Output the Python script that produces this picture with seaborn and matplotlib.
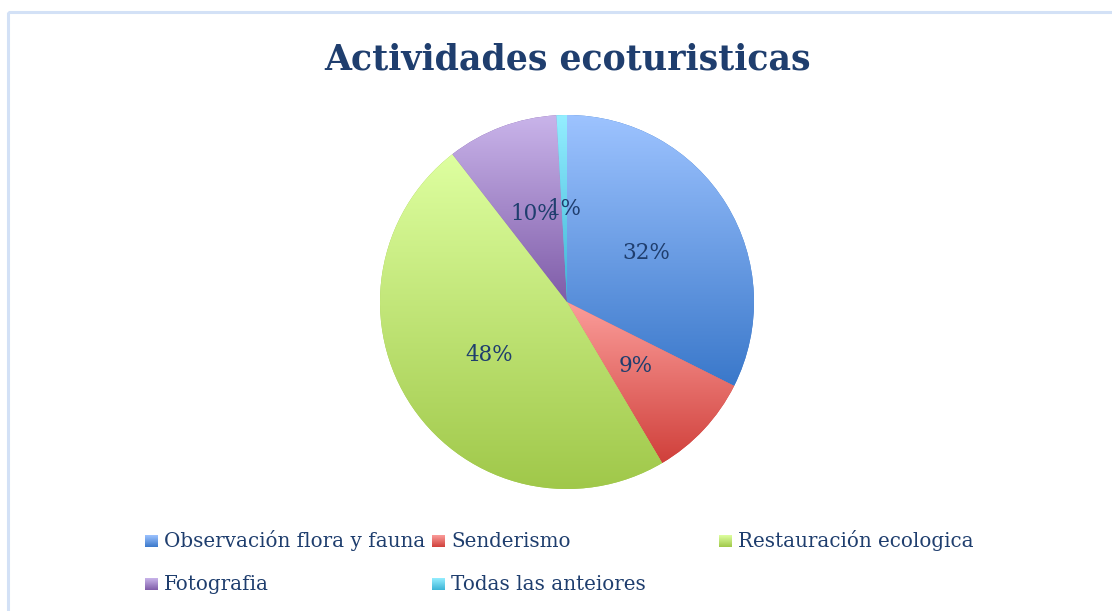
import numpy as np
import matplotlib
matplotlib.use("Agg")
import matplotlib.pyplot as plt
import seaborn as sns
from matplotlib.colors import LinearSegmentedColormap
from matplotlib.patches import Rectangle

sns.set_theme(style="white")
plt.rcParams['font.family'] = ['DejaVu Serif']

# data
categories = ["Observación flora y fauna", "Senderismo", "Restauración ecologica",
              "Fotografia", "Todas las anteiores"]
shares = [32.4, 9.1, 48.0, 9.6, 0.9]
top_colors = ["#9DC3FF", "#FB9D9A", "#DEFFA0", "#C9B4EA", "#94EEFF"]
bottom_colors = ["#3A78CA", "#D0403B", "#A0C84A", "#7F5CA8", "#3CB4D6"]
title = "Actividades ecoturisticas"
text_color = "#1F3E6E"

W, H = 1112, 611
fig = plt.figure(figsize=(W / 100, H / 100), dpi=100)
fig.patch.set_facecolor("white")

# overlay axes in pixel coordinates (frame + legend)
ov = fig.add_axes([0, 0, 1, 1])
ov.set_xlim(0, W)
ov.set_ylim(H, 0)
ov.axis("off")
ov.add_patch(Rectangle((8, 12), W + 20, H + 20, fill=False, edgecolor="#D3E1F6", linewidth=2.2))

ramp = np.linspace(0, 1, 256).reshape(-1, 1)


def gradient_cmap(top, bottom):
    return LinearSegmentedColormap.from_list("g", [bottom, top])


# pie
cx, cy, r = 567, 302, 187
ax = fig.add_axes([(cx - r) / W, (H - cy - r) / H, 2 * r / W, 2 * r / H])
wedges, texts, autotexts = ax.pie(
    shares, startangle=90, counterclock=False, radius=1,
    autopct="%.0f%%", pctdistance=0.5,
    wedgeprops={"linewidth": 0, "edgecolor": "none"},
    textprops={"color": text_color, "fontsize": 15.5},
)
for w, t, b in zip(wedges, top_colors, bottom_colors):
    w.set_facecolor(b)
    ext = w.get_path().get_extents()
    im = ax.imshow(ramp, cmap=gradient_cmap(t, b), origin="lower", aspect="auto",
                   extent=[ext.x0, ext.x1, ext.y0, ext.y1], zorder=w.get_zorder() + 0.1,
                   interpolation="bilinear")
    im.set_clip_path(w)
for a in autotexts:
    a.set_zorder(5)
ax.set_xlim(-1, 1)
ax.set_ylim(-1, 1)
ax.set_aspect("equal")
ax.axis("off")

# title
fig.text(cx / W, 1 - 60 / H, title, ha="center", va="center",
         fontsize=25, fontweight="bold", color=text_color)

# legend laid out like the office chart (row-major, fixed columns)
col_x = [145, 432, 719]
row_y = [541, 584]
for i, (lab, t, b) in enumerate(zip(categories, top_colors, bottom_colors)):
    x = col_x[i % 3]
    y = row_y[i // 3]
    ov.imshow(ramp[::-1], cmap=gradient_cmap(t, b), origin="upper", aspect="auto",
              extent=[x, x + 13, y + 6, y - 6], interpolation="bilinear")
    ov.text(x + 19, y + 6, lab, ha="left", va="baseline", fontsize=14.3, color=text_color)
ov.set_xlim(0, W)
ov.set_ylim(H, 0)

fig.savefig("out.png", dpi=100)
